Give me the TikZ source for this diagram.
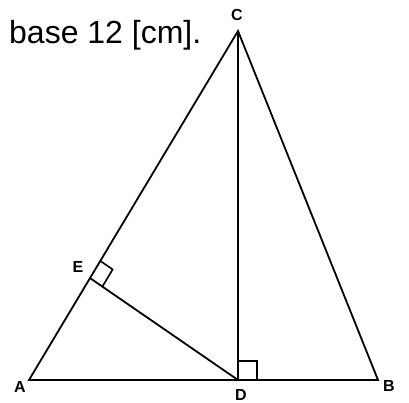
\documentclass[tikz,border=0pt]{standalone}
\usepackage{fontspec}
\setmainfont{Liberation Sans}
\usetikzlibrary{calc}

\begin{document}
\begin{tikzpicture}[
    x=1pt, y=-1pt,
    side/.style={line width=1.8pt, draw=black},
    mark90/.style={line width=1.6pt, draw=black},
    vlabel/.style={font=\fontsize{16}{16}\selectfont\bfseries, inner sep=0pt},
    note/.style={font=\fontsize{32}{32}\selectfont, anchor=base west, inner sep=0pt}
]
\useasboundingbox (0,0) rectangle (409,403);

% vertices
\coordinate (A) at (29,380);
\coordinate (B) at (378,380);
\coordinate (C) at (238,31);
\coordinate (D) at (238,380);
\coordinate (E) at ($(A)!0.292!(C)$);

% triangle and heights
\draw[side] (A) -- (B) -- (C) -- cycle;
\draw[side] (C) -- (D);
\draw[side] (E) -- (D);

% right angles
\coordinate (Du) at ($(D)!19pt!(C)$);
\coordinate (Dr) at ($(D)!19pt!(B)$);
\draw[mark90] (Du) -- ($(Du)+(Dr)-(D)$) -- (Dr);
\coordinate (Ec) at ($(E)!20pt!(C)$);
\coordinate (Ed) at ($(E)!15pt!(D)$);
\draw[mark90] (Ec) -- ($(Ec)+(Ed)-(E)$) -- (Ed);

% labels
\node[vlabel] (lA) at (20,387) {A};
\node[vlabel] (lB) at (389,386) {B};
\node[vlabel] (lC) at (237,15) {C};
\node[vlabel] (lD) at (241,395) {D};
\node[vlabel] (lE) at (78,267) {E};
\node[note] (base) at (9,44) {base 12 [cm].};

\end{tikzpicture}
\end{document}
